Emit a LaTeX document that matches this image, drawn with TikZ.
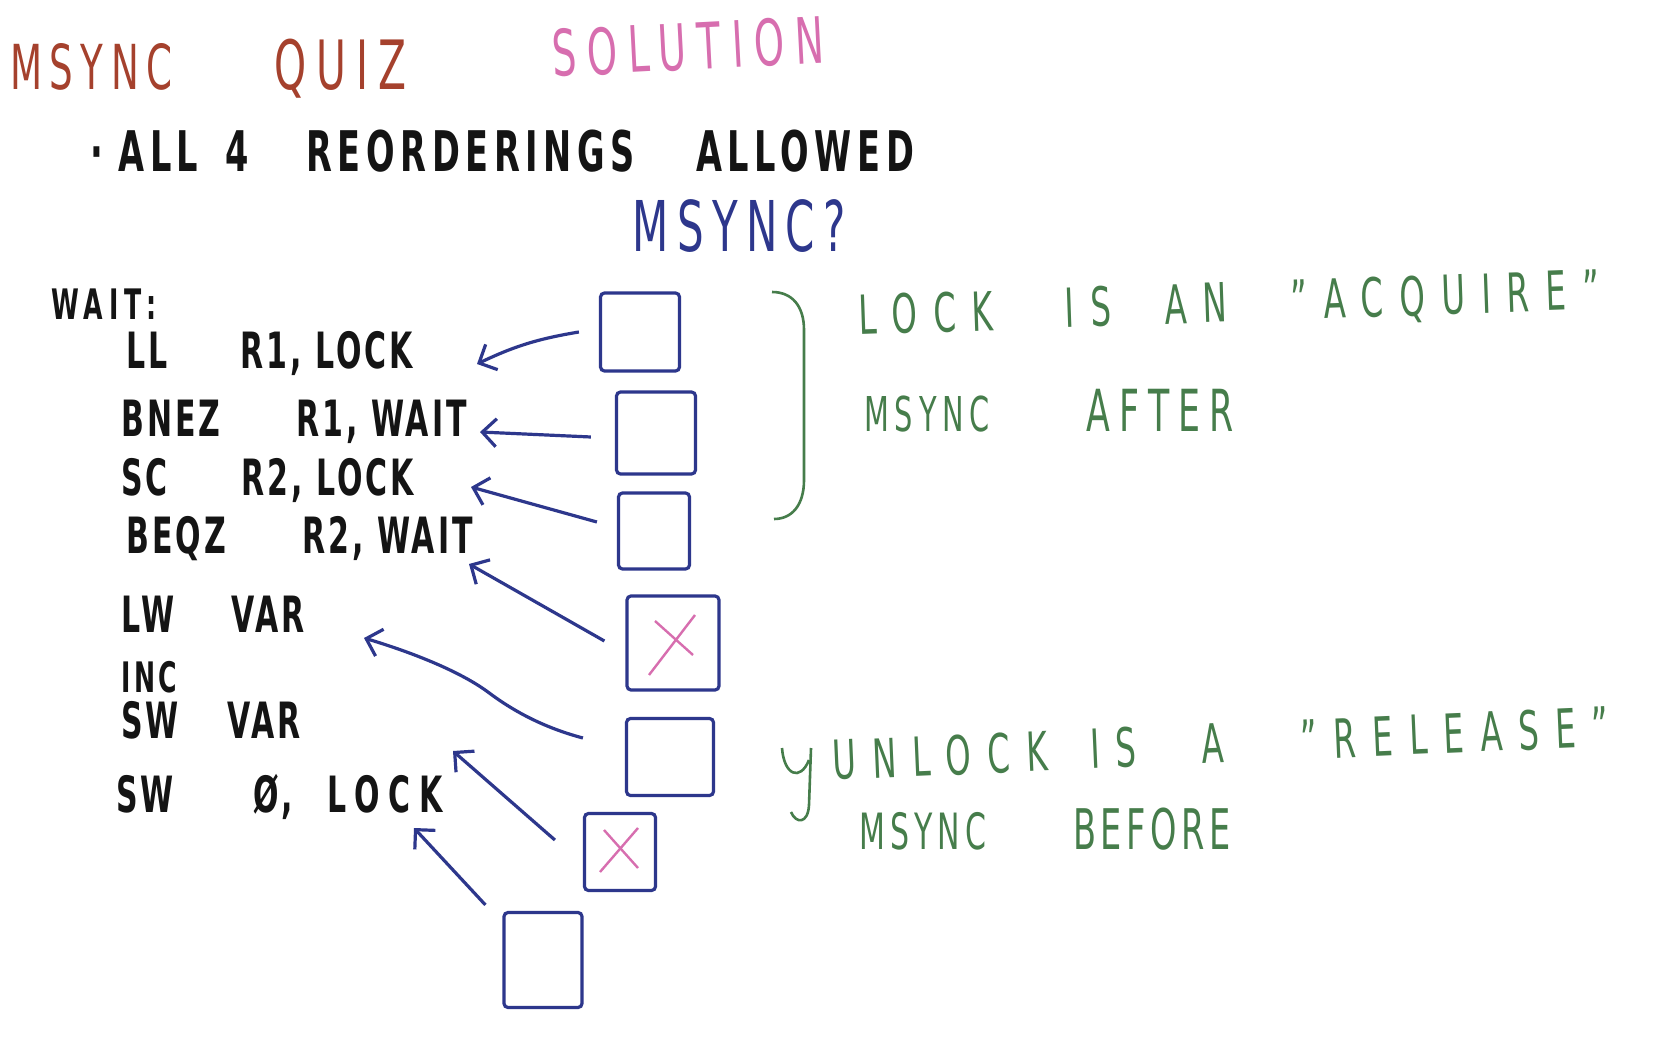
\documentclass[tikz,border=0pt]{standalone}
\usepackage{fontspec}
\setmainfont{DejaVu Sans}[FakeStretch=0.6, LetterSpace=8]
\usetikzlibrary{arrows.meta}
\definecolor{qbrown}{RGB}{165,65,45}
\definecolor{qpink}{RGB}{215,110,175}
\definecolor{qblue}{RGB}{45,55,140}
\definecolor{qgreen}{RGB}{70,125,75}
\definecolor{qink}{RGB}{20,20,20}
\newcommand{\track}[1]{\addfontfeatures{LetterSpace=#1}}
\begin{document}
\begin{tikzpicture}[x=0.5pt, y=-0.5pt,
    txt/.style={anchor=base west, inner sep=0pt},
    box/.style={draw=qblue, line width=1.6pt, rounded corners=2pt, inner sep=0pt},
    arr/.style={draw=qblue, line width=1.6pt,
        -{Straight Barb[length=7pt, width=14pt]}},
    cross/.style={draw=qpink, line width=1.2pt},
    brace/.style={draw=qgreen, line width=1.3pt}]
\useasboundingbox[fill=white] (0,0) rectangle (1653,1042);

% ========= 标题 =========
\node[txt, text=qbrown, font=\fontsize{31}{36}\selectfont\track{12}] (title) at (10,90)
    {\makebox[132pt][l]{MSYNC }{\fontsize{34}{40}\selectfont\track{15}QUIZ}};
\node[txt, text=qpink, font=\fontsize{32}{38}\selectfont\track{17}, rotate=3] (sol) at (553,77) {SOLUTION};
\node[txt, text=qink, font=\fontsize{28}{34}\selectfont\bfseries\track{10}] (rule) at (90,172)
    {\makebox[14pt][l]{·}\makebox[53.5pt][l]{ALL }\makebox[40.5pt][l]{4 }%
     \makebox[195pt][l]{REORDERINGS }ALLOWED};
\node[txt, text=qblue, font=\fontsize{35}{42}\selectfont\track{12}] (q) at (632,252) {MSYNC?};

% ========= 左边：代码 =========
\begin{scope}[every node/.append style={txt, text=qink, font=\fontsize{25}{30}\selectfont\bfseries\track{6}}]
    \node[font=\fontsize{21}{24}\selectfont\bfseries\track{14}] (wait) at (51,320) {WAIT:};
    \node (ll)   at (126,369) {\makebox[57pt][l]{LL }R1, LOCK};
    \node (bnez) at (121,437) {\makebox[87.5pt][l]{BNEZ }R1, WAIT};
    \node (sc)   at (121,495) {\makebox[60pt][l]{SC }R2, LOCK};
    \node (beqz) at (126,553) {\makebox[88pt][l]{BEQZ }R2, WAIT};
    \node (lw)   at (121,632) {\makebox[55pt][l]{LW }VAR};
    \node[font=\fontsize{21}{24}\selectfont\bfseries\track{8}] (inc) at (121,692) {INC};
    \node (sw)   at (121,738) {\makebox[53pt][l]{SW }VAR};
    \node (unl)  at (116,812) {\makebox[68.5pt][l]{SW }\makebox[37pt][l]{Ø, }{\track{18}LOCK}};
\end{scope}

% ========= 中间：方框 =========
\node[box, minimum width=39.5pt, minimum height=39pt] (b1) at (640,332) {};
\node[box, minimum width=39.5pt, minimum height=41pt] (b2) at (656,433) {};
\node[box, minimum width=35.5pt, minimum height=38pt] (b3) at (654,531) {};
\node[box, minimum width=46pt,   minimum height=47pt] (b4) at (673,643) {};
\node[box, minimum width=43.5pt, minimum height=38.5pt] (b5) at (670,757) {};
\node[box, minimum width=35.5pt, minimum height=38.5pt] (b6) at (620,852) {};
\node[box, minimum width=39pt,   minimum height=47.5pt] (b7) at (543,960) {};

% 叉号
\draw[cross] ([xshift=-12pt, yshift=-16pt]b4.center) -- ([xshift=11pt, yshift=14pt]b4.center);
\draw[cross] ([xshift=-9pt, yshift=11pt]b4.center) -- ([xshift=10pt, yshift=-6pt]b4.center);
\draw[cross] ([xshift=-10pt, yshift=-10pt]b6.center) -- ([xshift=9pt, yshift=12pt]b6.center);
\draw[cross] ([xshift=-8pt, yshift=11pt]b6.center) -- ([xshift=9pt, yshift=-8pt]b6.center);

% ========= 箭头：从方框指向指令 =========
\draw[arr] ([xshift=-10pt]b1.west) to[bend right=8] ([xshift=175.5pt, yshift=2.5pt]ll.base west);
\draw[arr] ([xshift=-12pt, yshift=-2pt]b2.west) -- ([xshift=179.5pt, yshift=2.5pt]bnez.base west);
\draw[arr] ([xshift=-10pt, yshift=4.5pt]b3.west) -- ([xshift=175pt, yshift=4pt]sc.base west);
\draw[arr] ([xshift=-10.5pt, yshift=1pt]b4.west) -- ([xshift=171.5pt, yshift=-5.5pt]beqz.base west);
\draw[arr] ([xshift=-21pt, yshift=9.5pt]b5.west)
    .. controls +(-45,-12) and +(20,15) .. ++(-95,-46)
    .. controls +(-27,-20) and +(50,15) .. ([xshift=121.5pt, yshift=-3pt]lw.base west);
\draw[arr] ([xshift=-14pt, yshift=6pt]b6.west) -- ([xshift=168.5pt, yshift=30.5pt]unl.base west);
\draw[arr] ([xshift=-8.5pt, yshift=3pt]b7.north west) -- ([xshift=149pt, yshift=-8pt]unl.base west);

% ========= 右边：说明 =========
\draw[brace] (772,292) .. controls (792,292) and (804,306) .. (804,330) -- (804,480)
    .. controls (804,505) and (792,519) .. (774,519);
\node[txt, text=qgreen, font=\fontsize{27}{34}\selectfont\track{30}, rotate=2] (acq) at (859,335)
    {\makebox[103pt][l]{LOCK }\makebox[50pt][l]{IS }\makebox[63pt][l]{AN }"ACQUIRE"};
\node[txt, text=qgreen, font=\fontsize{29}{34}\selectfont\track{16}] (after) at (864,432)
    {\makebox[111pt][l]{\fontsize{24}{30}\selectfont\track{12}MSYNC }AFTER};

\draw[brace] (782,748) .. controls (784,775) and (800,782) .. (809,760);
\draw[brace] (811,748) -- (809,805) .. controls (808,824) and (796,824) .. (791,812);
\node[txt, text=qgreen, font=\fontsize{27}{34}\selectfont\track{30}, rotate=2.5] (rel) at (833,780)
    {\makebox[129pt][l]{UNLOCK }\makebox[55.5pt][l]{IS }\makebox[50pt][l]{A }"RELEASE"};
\node[txt, text=qgreen, font=\fontsize{28}{34}\selectfont] (before) at (859,849)
    {\makebox[107pt][l]{\fontsize{25}{30}\selectfont\track{10}MSYNC }BEFORE};
\end{tikzpicture}
\end{document}
